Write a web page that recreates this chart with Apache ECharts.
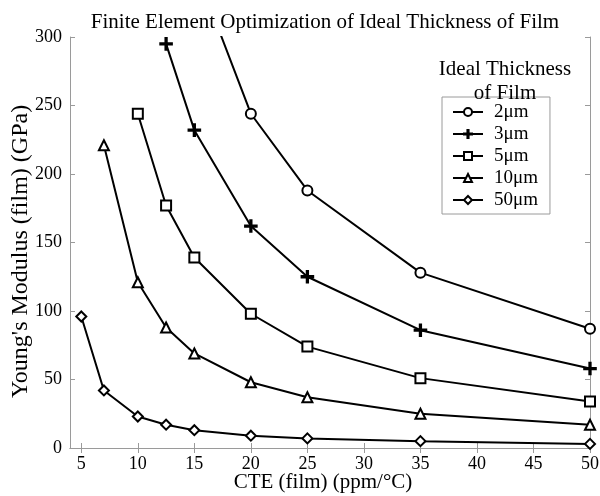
<!DOCTYPE html>
<html>
<head>
<meta charset="utf-8">
<script src="https://cdn.jsdelivr.net/npm/echarts@6/dist/echarts.min.js"></script>
<style>
  html, body { margin: 0; padding: 0; background: #fff; }
  #chart { width: 600px; height: 496px; }
</style>
</head>
<body>
<div id="chart"></div>
<script>
// data (CTE in ppm/°C, modulus in GPa)
var names = ['2μm', '3μm', '5μm', '10μm', '50μm'];
var cte2 = [15, 20, 25, 35, 50];
var mod2 = [352, 244, 188, 128, 87];
var cte3 = [12.5, 15, 20, 25, 35, 50];
var mod3 = [295, 232, 162, 125, 86, 58];
var cte5 = [10, 12.5, 15, 20, 25, 35, 50];
var mod5 = [244, 177, 139, 98, 74, 51, 34];
var cte10 = [7, 10, 12.5, 15, 20, 25, 35, 50];
var mod10 = [221, 121, 88, 69, 48, 37, 25, 17];
var cte50 = [5, 7, 10, 12.5, 15, 20, 25, 35, 50];
var mod50 = [96, 42, 23, 17, 13, 9, 7, 5, 3];
var xTicks = [5, 10, 15, 20, 25, 30, 35, 40, 45, 50];

var plus = 'path://M4.3,0h1.4v10h-1.4z M0,4.3h10v1.4h-10z';
var symbols = ['emptyCircle', plus, 'emptyRect', 'emptyTriangle', 'emptyDiamond'];
var xs = [cte2, cte3, cte5, cte10, cte50];
var ys = [mod2, mod3, mod5, mod10, mod50];

var font = 'Liberation Serif';
var gray = '#9a9a9a';

var series = [];
names.forEach(function (n, i) {
  var pts = [];
  xs[i].forEach(function (x, j) { pts.push([x, ys[i][j]]); });
  series.push({
    name: n,
    type: 'line',
    data: pts,
    symbol: symbols[i],
    symbolSize: i == 1 ? 12 : 10,
    clip: true,
    lineStyle: { color: '#000', width: 2 },
    itemStyle: { color: '#000', borderColor: '#000', borderWidth: 1.6 },
    emphasis: { disabled: true }
  });
});

var myChart = echarts.init(document.getElementById('chart'));
myChart.setOption({
  animation: false,
  textStyle: { fontFamily: font },
  title: [{
    text: 'Finite Element Optimization of Ideal Thickness of Film',
    left: 320, top: 7, textAlign: 'center',
    textStyle: { fontFamily: font, fontSize: 21, fontWeight: 'normal', color: '#000' }
  }, {
    text: 'Ideal Thickness\nof Film',
    left: 500, top: 52, textAlign: 'center',
    textStyle: { fontFamily: font, fontSize: 21, fontWeight: 'normal', color: '#000', lineHeight: 24, align: 'center' }
  }],
  legend: {
    orient: 'vertical',
    left: 442, top: 97,
    padding: [4, 12, 3, 10],
    itemWidth: 30, itemHeight: 10,
    itemGap: 0,
    borderColor: gray, borderWidth: 1,
    textStyle: { fontFamily: font, fontSize: 19, color: '#000', lineHeight: 22, padding: [0, 0, 0, 6] },
    data: names
  },
  grid: { left: 70, right: 10, top: 37, bottom: 48, containLabel: false, outerBoundsMode: 'none' },
  xAxis: [{
    type: 'value', min: 4, max: 50,
    name: 'CTE (film) (ppm/°C)', nameLocation: 'middle', nameGap: 24, nameMoveOverlap: false,
    nameTextStyle: { fontFamily: font, fontSize: 21, color: '#000', padding: [0, 14, 0, 0] },
    axisLine: { lineStyle: { color: gray } },
    axisTick: { inside: true, length: 5, customValues: xTicks, lineStyle: { color: gray } },
    axisLabel: { customValues: xTicks, fontFamily: font, fontSize: 18, color: '#000', margin: 7 },
    splitLine: { show: false }
  }, {
    type: 'value', min: 4, max: 50, position: 'top',
    axisLine: { show: true, lineStyle: { color: gray } },
    axisTick: { inside: true, length: 5, customValues: xTicks, lineStyle: { color: gray } },
    axisLabel: { show: false },
    splitLine: { show: false }
  }],
  yAxis: [{
    type: 'value', min: 0, max: 300, interval: 50,
    name: "Young's Modulus (film) (GPa)", nameLocation: 'middle', nameGap: 37, nameMoveOverlap: false,
    nameTextStyle: { fontFamily: font, fontSize: 24, color: '#000', padding: [0, 18, 0, 0] },
    axisLine: { show: true, lineStyle: { color: gray } },
    axisTick: { show: true, inside: true, length: 5, lineStyle: { color: gray } },
    axisLabel: { fontFamily: font, fontSize: 18, color: '#000', margin: 8 },
    splitLine: { show: false }
  }, {
    type: 'value', min: 0, max: 300, interval: 50, position: 'right',
    axisLine: { show: true, lineStyle: { color: gray } },
    axisTick: { show: true, inside: true, length: 5, lineStyle: { color: gray } },
    axisLabel: { show: false },
    splitLine: { show: false }
  }],
  series: series
});
</script>
</body>
</html>
